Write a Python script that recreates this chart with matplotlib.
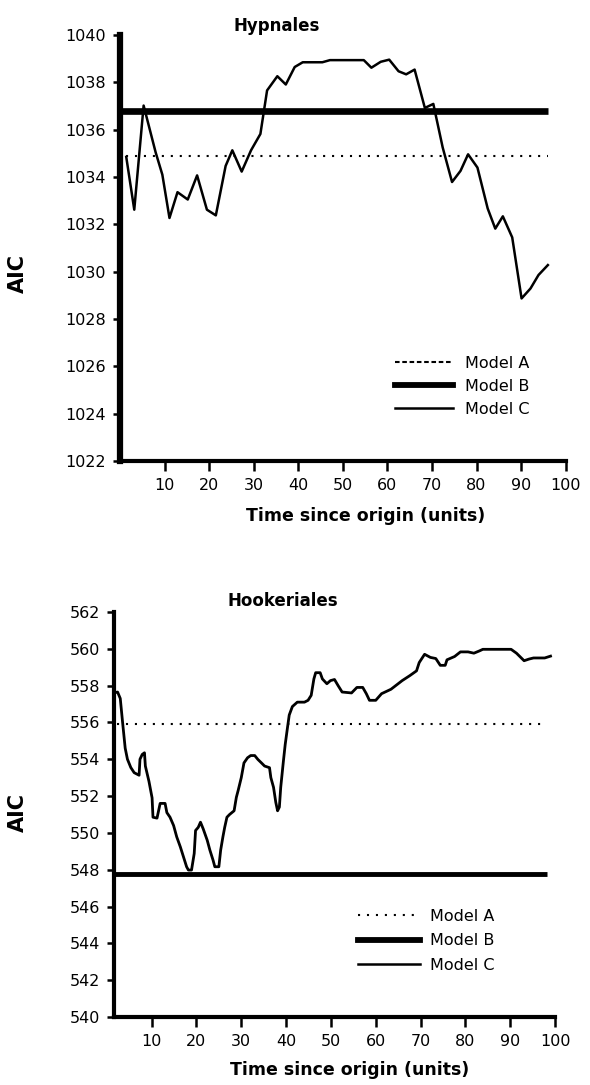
#! /usr/bin/env python3

import matplotlib
matplotlib.use('Agg')
import matplotlib.pyplot as plt
from matplotlib.lines import Line2D

# Hypnales panel
hyp_time = [1.4, 3.2, 5.3, 8.0, 9.5, 11.1, 12.9, 15.2, 17.3, 19.5, 21.5, 23.7,
            25.2, 27.3, 29.4, 31.5, 33.0, 35.3, 37.2, 39.2, 41.0, 45.4, 47.1,
            54.7, 56.4, 58.5, 60.4, 62.5, 64.2, 66.1, 68.4, 70.3, 72.4, 74.5,
            76.4, 78.1, 80.2, 82.5, 84.2, 85.9, 88.0, 90.1, 92.1, 93.9, 96.0]
hyp_aic_c = [1034.85, 1032.62, 1037.02, 1035.04, 1034.1, 1032.27, 1033.36,
             1033.05, 1034.07, 1032.62, 1032.38, 1034.47, 1035.13, 1034.23,
             1035.13, 1035.82, 1037.66, 1038.26, 1037.91, 1038.65, 1038.85,
             1038.85, 1038.94, 1038.94, 1038.62, 1038.87, 1038.96, 1038.47,
             1038.34, 1038.54, 1036.92, 1037.09, 1035.25, 1033.79, 1034.26,
             1034.96, 1034.4, 1032.67, 1031.82, 1032.34, 1031.45, 1028.87,
             1029.29, 1029.86, 1030.28]
hyp_span_a = [1.4, 96.0]
hyp_span_b = [0.0, 96.0]
hyp_aic_a = 1034.9
hyp_aic_b = 1036.8

# Hookeriales panel
hook_time = [1.6, 2.4, 3.0, 3.5, 4.1, 4.6, 5.35, 6.1, 7.2, 7.4, 7.9, 8.4, 8.6,
             9.4, 10.1, 10.3, 11.2, 11.9, 13.0, 13.4, 14.1, 14.9, 15.6, 16.4,
             17.1, 17.8, 18.2, 18.9, 19.5, 19.8, 20.4, 20.9, 21.5, 22.4, 23.0,
             23.7, 24.1, 25.0, 25.4, 25.9, 26.3, 26.8, 27.4, 28.4, 28.9, 29.3,
             30.0, 30.6, 31.4, 32.1, 33.0, 33.7, 34.5, 35.2, 36.3, 36.6, 37.2,
             37.7, 38.1, 38.5, 38.8, 39.4, 39.8, 40.3, 40.7, 41.4, 42.5, 44.1,
             44.9, 45.6, 46.2, 46.6, 47.6, 48.1, 49.1, 49.9, 50.8, 51.6, 52.5,
             54.6, 55.8, 57.1, 57.9, 58.6, 60.0, 61.3, 63.4, 65.9, 67.6, 69.1,
             69.7, 70.9, 72.2, 73.4, 74.4, 75.5, 75.9, 77.6, 78.9, 80.6, 81.9,
             83.1, 83.9, 90.2, 91.4, 93.1, 94.2, 95.2, 97.7, 99.0]
hook_aic_c = [557.6, 557.65, 557.3, 556.05, 554.6, 554.0, 553.55, 553.27,
              553.13, 554.0, 554.26, 554.35, 553.63, 552.8, 551.9, 550.85,
              550.8, 551.6, 551.6, 551.1, 550.85, 550.4, 549.78, 549.24, 548.7,
              548.16, 547.98, 547.98, 548.88, 550.13, 550.3, 550.58, 550.22,
              549.6, 549.06, 548.52, 548.16, 548.16, 549.06, 549.78, 550.3,
              550.85, 551.0, 551.2, 551.93, 552.3, 553.0, 553.8, 554.08, 554.2,
              554.2, 553.99, 553.8, 553.63, 553.54, 553.0, 552.47, 551.66,
              551.2, 551.4, 552.47, 553.9, 554.8, 555.7, 556.4, 556.86, 557.1,
              557.1, 557.2, 557.47, 558.36, 558.7, 558.7, 558.36, 558.1,
              558.27, 558.33, 558.0, 557.65, 557.6, 557.9, 557.9, 557.56,
              557.2, 557.2, 557.56, 557.8, 558.27, 558.54, 558.8, 559.25,
              559.7, 559.53, 559.47, 559.1, 559.1, 559.4, 559.58, 559.83,
              559.83, 559.76, 559.88, 559.97, 559.97, 559.76, 559.35, 559.44,
              559.5, 559.5, 559.6]
hook_span_a = [2.2, 97.7]
hook_span_b = [1.6, 98.3]
hook_aic_a = 555.9
hook_aic_b = 547.75

x_ticks = [10, 20, 30, 40, 50, 60, 70, 80, 90, 100]
hyp_yticks = list(range(1022, 1041, 2))
hook_yticks = list(range(540, 563, 2))

DOT = (0, (1, 3.3))


def style_axes(ax, left_lw):
    for s in ['top', 'right']:
        ax.spines[s].set_visible(False)
    ax.spines['left'].set_linewidth(left_lw)
    ax.spines['bottom'].set_linewidth(3)
    ax.tick_params(axis='y', direction='out', length=5, width=1.8,
                   pad=5, labelsize=11.5)
    ax.tick_params(axis='x', direction='out', length=7, width=1.8,
                   pad=5, labelsize=11.5)


def mkplot():
    fig = plt.figure(figsize=(5.9, 10.85), dpi=100)

    # --- Hypnales ---
    ax1 = fig.add_axes([0.2034, 0.5751, 0.7554, 0.3926])
    ax1.plot(hyp_span_a, [hyp_aic_a] * 2, color='black', lw=1.5, ls=DOT)
    ax1.plot(hyp_span_b, [hyp_aic_b] * 2, color='black', lw=4.8,
             solid_capstyle='butt')
    ax1.plot(hyp_time, hyp_aic_c, color='black', lw=1.8)
    ax1.set_xlim(0, 100)
    ax1.set_ylim(1022, 1040)
    ax1.set_xticks(x_ticks)
    ax1.set_yticks(hyp_yticks)
    style_axes(ax1, 4.5)
    ax1.set_title('Hypnales', fontsize=12, fontweight='bold', x=0.352, pad=3)
    ax1.set_xlabel('Time since origin (units)', fontsize=12.5,
                   fontweight='bold')
    ax1.xaxis.set_label_coords(0.55, -0.108)
    ax1.set_ylabel('AIC', fontsize=15, fontweight='bold')
    ax1.yaxis.set_label_coords(-0.206, 0.441)
    h1 = [Line2D([], [], color='black', lw=1.5, ls=(0, (2.2, 1.3))),
          Line2D([], [], color='black', lw=4.2),
          Line2D([], [], color='black', lw=1.8)]
    ax1.legend(h1, ['Model A', 'Model B', 'Model C'], frameon=False,
               loc='upper left', bbox_to_anchor=(0.6695, 0.672),
               bbox_transform=fig.transFigure, fontsize=11.5, borderpad=0,
               borderaxespad=0, handlelength=3.6, handletextpad=0.8,
               labelspacing=0.5)

    # --- Hookeriales ---
    ax2 = fig.add_axes([0.1932, 0.0627, 0.7475, 0.3733])
    ax2.plot(hook_span_a, [hook_aic_a] * 2, color='black', lw=1.5, ls=DOT)
    ax2.plot(hook_span_b, [hook_aic_b] * 2, color='black', lw=3.5,
             solid_capstyle='butt')
    ax2.plot(hook_time, hook_aic_c, color='black', lw=2)
    ax2.set_xlim(1.6, 100)
    ax2.set_ylim(540, 562)
    ax2.set_xticks(x_ticks)
    ax2.set_yticks(hook_yticks)
    style_axes(ax2, 3)
    ax2.set_title('Hookeriales', fontsize=12, fontweight='bold', x=0.383,
                  pad=4)
    ax2.set_xlabel('Time since origin (units)', fontsize=12.5,
                   fontweight='bold')
    ax2.xaxis.set_label_coords(0.535, -0.108)
    ax2.set_ylabel('AIC', fontsize=15, fontweight='bold')
    ax2.yaxis.set_label_coords(-0.195, 0.506)
    h2 = [Line2D([], [], color='black', lw=1.5, ls=DOT),
          Line2D([], [], color='black', lw=4.2),
          Line2D([], [], color='black', lw=1.8)]
    ax2.legend(h2, ['Model A', 'Model B', 'Model C'], frameon=False,
               loc='upper left', bbox_to_anchor=(0.6068, 0.1625),
               bbox_transform=fig.transFigure, fontsize=11.5, borderpad=0,
               borderaxespad=0, handlelength=3.9, handletextpad=0.6,
               labelspacing=0.6)

    fig.savefig('out.png', dpi=100)


if __name__ == "__main__":
    mkplot()
